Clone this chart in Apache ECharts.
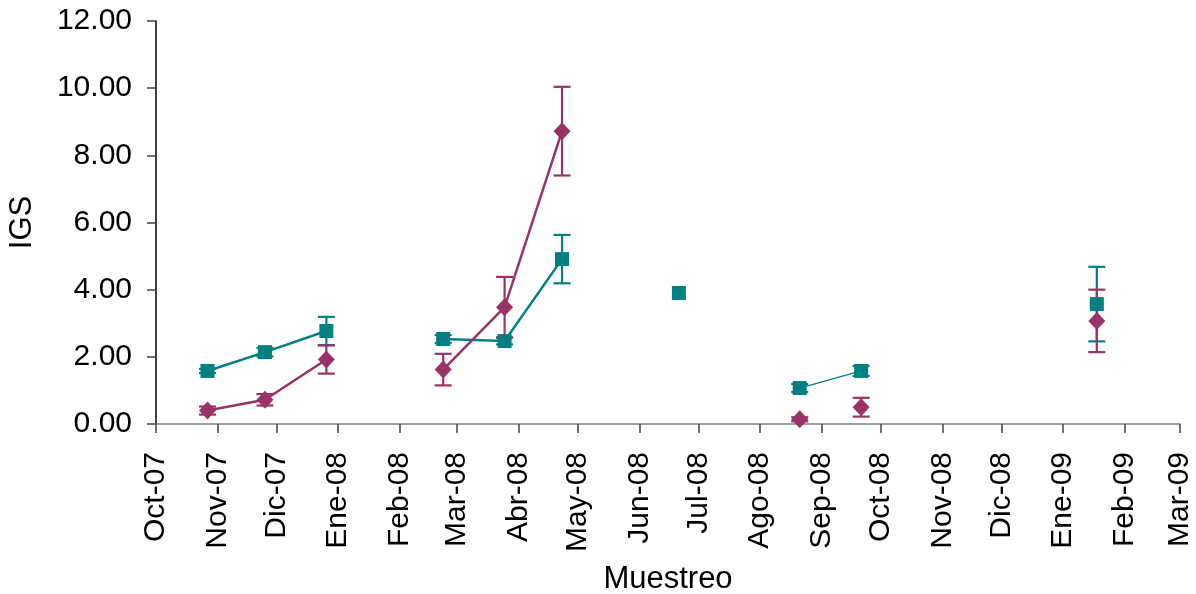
<!DOCTYPE html>
<html>
<head>
<meta charset="utf-8">
<script src="https://cdn.jsdelivr.net/npm/echarts@6/dist/echarts.min.js"></script>
<style>
html,body{margin:0;padding:0;background:#fff;}
#chart{width:1196px;height:594px;}
</style>
</head>
<body>
<div id="chart"></div>
<script>
// ---- data ----
var axisStart = '2007-10-01';
var axisEnd = '2009-03-01';
var monthTicks = ['2007-10-01','2007-11-01','2007-12-01','2008-01-01','2008-02-01','2008-03-01','2008-04-01','2008-05-01','2008-06-01','2008-07-01','2008-08-01','2008-09-01','2008-10-01','2008-11-01','2008-12-01','2009-01-01','2009-02-01','2009-03-01'];
var monthLabels = ['Oct-07','Nov-07','Dic-07','Ene-08','Feb-08','Mar-08','Abr-08','May-08','Jun-08','Jul-08','Ago-08','Sep-08','Oct-08','Nov-08','Dic-08','Ene-09','Feb-09','Mar-09'];
var samplingDates = ['2007-10-27','2007-11-25','2007-12-26','2008-02-23','2008-03-25','2008-04-23','2008-06-21','2008-08-21','2008-09-21','2009-01-18'];
var tealValues = [1.58, 2.14, 2.77, 2.53, 2.47, 4.91, 3.90, 1.07, 1.58, 3.57];
var tealErrors = [0.06, 0.13, 0.42, 0.12, 0.10, 0.72, null, 0.12, 0.15, 1.11];
var purpleValues = [0.40, 0.72, 1.92, 1.62, 3.48, 8.72, null, 0.14, 0.50, 3.07];
var purpleErrors = [0.12, 0.17, 0.42, 0.47, 0.90, 1.32, null, 0.06, 0.28, 0.93];
var tealThickSegments = [[0,1,2],[3,4,5]];
var tealThinSegments = [[7,8]];
var purpleSegments = [[0,1,2],[3,4,5]];
var yTickValues = [0, 2, 4, 6, 8, 10, 12];

// ---- helpers ----
function dayOffset(s){
  var p = s.split('-');
  var a = Date.UTC(+p[0], +p[1]-1, +p[2]);
  var q = axisStart.split('-');
  var b = Date.UTC(+q[0], +q[1]-1, +q[2]);
  return (a - b) / 86400000;
}
var tickOffsets = monthTicks.map(dayOffset);
var xs = samplingDates.map(dayOffset);

function points(vals){
  var out = [];
  for (var i=0;i<vals.length;i++) if (vals[i] != null) out.push([xs[i], vals[i]]);
  return out;
}
function segs(vals, groups){
  var out = [];
  groups.forEach(function(g, gi){
    if (gi>0) out.push([null, null]);
    g.forEach(function(i){ out.push([xs[i], vals[i]]); });
  });
  return out;
}
function errs(vals, e){
  var out = [];
  for (var i=0;i<vals.length;i++) if (vals[i]!=null && e[i]!=null) out.push([xs[i], vals[i]-e[i], vals[i]+e[i]]);
  return out;
}
function errRender(color){
  return function(params, api){
    var x = api.value(0), lo = api.value(1), hi = api.value(2);
    var pl = api.coord([x, lo]), ph = api.coord([x, hi]);
    var hw = 8.5;
    var st = {stroke: color, lineWidth: 2.2};
    return {type:'group', children:[
      {type:'line', shape:{x1:pl[0],y1:pl[1],x2:ph[0],y2:ph[1]}, style:st},
      {type:'line', shape:{x1:pl[0]-hw,y1:pl[1],x2:pl[0]+hw,y2:pl[1]}, style:st},
      {type:'line', shape:{x1:ph[0]-hw,y1:ph[1],x2:ph[0]+hw,y2:ph[1]}, style:st}
    ]};
  };
}

var TEAL = '#008080', PURPLE = '#993366';
var FONT = '"Liberation Sans", Arial, sans-serif';

var chart = echarts.init(document.getElementById('chart'), null, {renderer:'canvas'});
chart.setOption({
  animation: false,
  backgroundColor: '#ffffff',
  grid: {left: 156, right: 16, top: 21, bottom: 170, containLabel: false, outerBoundsMode: 'none'},
  xAxis: {
    type: 'value',
    min: dayOffset(axisStart),
    max: dayOffset(axisEnd),
    name: 'Muestreo',
    nameLocation: 'middle',
    nameGap: 140,
    nameTextStyle: {fontFamily: FONT, fontSize: 31, color: '#000'},
    axisLine: {show: true, onZero: false, lineStyle: {color: '#808080', width: 1.5}},
    axisTick: {show: true, inside: false, length: 9, customValues: tickOffsets, lineStyle: {color: '#444', width: 1.5}},
    axisLabel: {
      show: true, rotate: 90, margin: 28, customValues: tickOffsets,
      fontFamily: FONT, fontSize: 30, color: '#000',
      formatter: function(v){ var i = tickOffsets.indexOf(v); return i>=0 ? monthLabels[i] : ''; }
    },
    splitLine: {show: false}
  },
  yAxis: {
    type: 'value',
    min: 0, max: 12, interval: 2,
    name: 'IGS',
    nameLocation: 'middle',
    nameRotate: 90,
    nameGap: 118,
    nameTextStyle: {fontFamily: FONT, fontSize: 31, color: '#000'},
    axisLine: {show: true, onZero: false, lineStyle: {color: '#000', width: 1.5}},
    axisTick: {show: true, inside: false, length: 9, lineStyle: {color: '#444', width: 1.5}},
    axisLabel: {
      margin: 24, fontFamily: FONT, fontSize: 30, color: '#000',
      customValues: yTickValues,
      formatter: function(v){ return v.toFixed(2); }
    },
    splitLine: {show: false}
  },
  series: [
    {type:'custom', name:'tealErr', renderItem: errRender(TEAL), data: errs(tealValues, tealErrors), encode:{x:0, y:[1,2]}, z: 2},
    {type:'custom', name:'purpleErr', renderItem: errRender(PURPLE), data: errs(purpleValues, purpleErrors), encode:{x:0, y:[1,2]}, z: 3},
    {type:'line', data: segs(tealValues, tealThickSegments), connectNulls:false, showSymbol:false, symbol:'none', lineStyle:{color:TEAL, width:2.5}, z:4},
    {type:'line', data: segs(tealValues, tealThinSegments), connectNulls:false, showSymbol:false, symbol:'none', lineStyle:{color:TEAL, width:1.3}, z:4},
    {type:'line', data: segs(purpleValues, purpleSegments), connectNulls:false, showSymbol:false, symbol:'none', lineStyle:{color:PURPLE, width:2.5}, z:5},
    {type:'scatter', data: points(tealValues), symbol:'rect', symbolSize:14, itemStyle:{color:TEAL, opacity:1}, z:6},
    {type:'scatter', data: points(purpleValues), symbol:'diamond', symbolSize:[17,18], itemStyle:{color:PURPLE, opacity:1}, z:7}
  ]
});
</script>
</body>
</html>
